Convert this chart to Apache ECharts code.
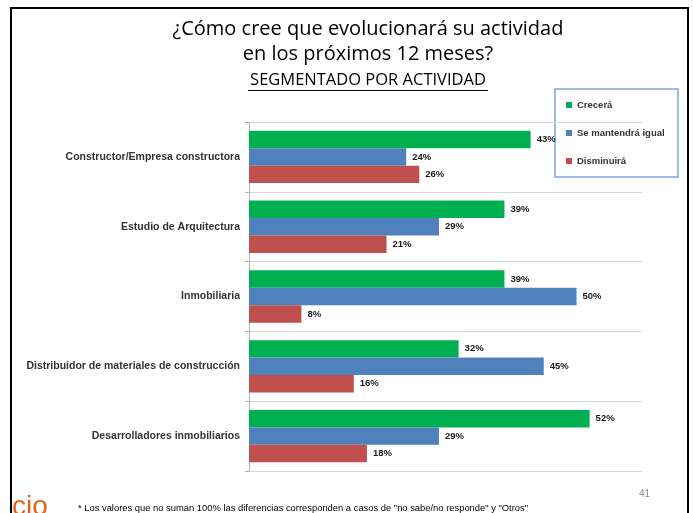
<!DOCTYPE html>
<html>
<head>
<meta charset="utf-8">
<script src="https://cdn.jsdelivr.net/npm/echarts@6/dist/echarts.min.js"></script>
<style>
  html, body { margin: 0; padding: 0; background: #fff; }
  #chart { width: 693px; height: 513px; }
</style>
</head>
<body>
<div id="chart"></div>
<script>
var categories = [
  'Constructor/Empresa constructora',
  'Estudio de Arquitectura',
  'Inmobiliaria',
  'Distribuidor de materiales de construcción',
  'Desarrolladores inmobiliarios'
];
var crecera = [43, 39, 39, 32, 52];
var mantendra = [24, 29, 50, 45, 29];
var disminuira = [26, 21, 8, 16, 18];

var chart = echarts.init(document.getElementById('chart'));

function barSeries(name, data, color) {
  return {
    name: name,
    type: 'bar',
    data: data,
    barGap: '0%',
    barCategoryGap: '25%',
    itemStyle: { color: color },
    label: {
      show: true,
      position: 'right',
      distance: 6,
      formatter: '{c}%',
      color: '#1a1a1a',
      fontWeight: 'bold',
      fontSize: 9.5,
      fontFamily: 'Liberation Sans'
    }
  };
}

chart.setOption({
  animation: false,
  backgroundColor: '#fff',
  title: [{
    text: '¿Cómo cree que evolucionará su actividad\nen los próximos 12 meses?',
    left: 363,
    textAlign: 'center',
    top: 12,
    textStyle: { fontFamily: 'Open Sans', fontWeight: 'normal', fontSize: 20, lineHeight: 25, color: '#000' }
  }],
  legend: {
    orient: 'vertical',
    left: 566,
    top: 99,
    itemWidth: 6,
    itemHeight: 6,
    itemGap: 16,
    icon: 'rect',
    padding: 0,
    textStyle: { fontFamily: 'Liberation Sans', fontWeight: 'bold', fontSize: 9.5, color: '#333', lineHeight: 12 },
    data: ['Crecerá', 'Se mantendrá igual', 'Disminuirá']
  },
  grid: { left: 249, right: 51, top: 122, bottom: 42 },
  xAxis: {
    type: 'value',
    min: 0,
    max: 60,
    show: false
  },
  yAxis: {
    type: 'category',
    inverse: true,
    data: categories,
    axisLine: { lineStyle: { color: '#b0b0b0' } },
    axisTick: { show: true, length: 4, lineStyle: { color: '#b0b0b0' } },
    splitLine: { show: true, lineStyle: { color: '#d9d9d9' } },
    axisLabel: {
      margin: 9,
      color: '#333',
      fontWeight: 'bold',
      fontSize: 10.5,
      fontFamily: 'Liberation Sans'
    }
  },
  series: [
    barSeries('Crecerá', crecera, '#00b050'),
    barSeries('Se mantendrá igual', mantendra, '#4f81bd'),
    barSeries('Disminuirá', disminuira, '#c0504d')
  ],
  graphic: [
    { type: 'rect', shape: { x: 11, y: 8, width: 677, height: 520 }, style: { fill: null, stroke: '#000', lineWidth: 2 }, z: 100 },
    { type: 'rect', shape: { x: 555, y: 89, width: 123, height: 88 }, style: { fill: '#fff', stroke: '#7ea6d8', lineWidth: 1.5 }, z: 0 },
    { type: 'text', style: { text: 'SEGMENTADO POR ACTIVIDAD', x: 368, y: 80, fill: '#000', font: '16.5px "Open Sans"', textAlign: 'center', textVerticalAlign: 'middle' } },
    { type: 'line', shape: { x1: 248, y1: 90.5, x2: 488, y2: 90.5 }, style: { stroke: '#000', lineWidth: 1 } },
    { type: 'text', style: { text: '* Los valores que no suman 100% las diferencias corresponden a casos de "no sabe/no responde" y "Otros"', x: 78, y: 508, fill: '#000', font: '9.4px "Liberation Sans"', textVerticalAlign: 'middle' } },
    { type: 'text', style: { text: '41', x: 639, y: 494, fill: '#8c8c8c', font: '10px "Liberation Sans"', textVerticalAlign: 'middle' } },
    { type: 'text', style: { text: 'cio', x: 12, y: 521, fill: '#e2631c', font: '28px "Liberation Sans"', textVerticalAlign: 'bottom' } }
  ]
});
</script>
</body>
</html>
